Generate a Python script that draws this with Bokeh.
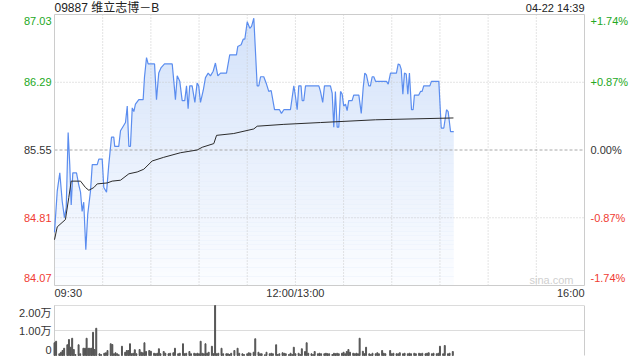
import numpy as np
from bokeh.plotting import figure
from bokeh.models import Range1d, Label
from bokeh.layouts import column
from bokeh.embed import file_html
from bokeh.resources import INLINE

# ---------------- data (minute offsets from 09:30, lunch removed) ----------------
title_text = "09887 维立志博－B"
stamp_text = "04-22 14:39"
prev_close = 85.55
price_ticks = [87.03, 86.29, 85.55, 84.81, 84.07]
pct_labels = ["+1.74%", "+0.87%", "0.00%", "-0.87%", "-1.74%"]
x_tick_pos = [0, 150, 330]
x_tick_labels = ["09:30", "12:00/13:00", "16:00"]
grid_minutes = [30, 60, 90, 120, 150, 180, 210, 240, 270, 300]
vol_ticks = [20000, 10000, 0]
vol_labels = ["2.00万", "1.00万", "0"]

price_min = [0, 1.7, 3.3, 4.8, 6.2, 7.3, 8.5, 9.5, 10.4, 11.4, 13.7, 15.1, 16.2, 17.2, 18.2, 19.5,
             20.7, 22.4, 23.5, 26.6, 27.6, 29.7, 30.7, 32.4, 33.8, 35.5, 36.9, 37.5, 40.0, 41.1,
             42.8, 44.2, 45.3, 46.3, 47.3, 48.4, 49.4, 50.4, 52.5, 55.2, 56.0, 57.3, 58.3, 62.3,
             63.5, 64.9, 66.4, 68.5, 73.3, 74.3, 75.3, 76.4, 78.0, 79.5, 81.1, 82.2, 83.2, 84.2,
             85.7, 87.4, 88.8, 89.8, 90.9, 92.6, 94.0, 95.7, 97.1, 98.8, 100.2, 101.7, 103.4,
             107.1, 109.1, 113.3, 114.1, 116.2, 117.5, 118.5, 120.0, 121.6, 122.7, 124.1, 126.2,
             127.2, 128.3, 130.3, 132.0, 133.4, 134.9, 137.0, 140.1, 141.3, 142.8, 146.9, 149.0,
             150.0, 151.1, 152.1, 153.5, 154.2, 155.2, 156.3, 164.6, 165.6, 167.0, 168.1, 171.8,
             172.9, 173.9, 174.9, 176.0, 177.0, 178.1, 179.1, 180.1, 181.2, 182.2, 183.2, 185.3,
             186.3, 189.5, 191.0, 192.2, 193.2, 194.2, 195.7, 196.7, 197.8, 198.8, 199.9, 206.7,
             207.8, 209.2, 212.9, 214.0, 215.0, 215.9, 216.9, 217.9, 219.0, 220.0, 221.0, 222.3,
             223.3, 224.1, 226.8, 227.9, 228.9, 229.9, 233.7, 234.7, 239.3, 240.8, 242.4, 244.1,
             245.1, 246.6, 248.6]
price_val = [84.65, 85.10, 85.30, 84.99, 84.81, 84.92, 85.74, 85.39, 84.95, 85.30, 85.30, 85.17,
             85.09, 84.88, 84.98, 84.46, 84.85, 85.10, 85.39, 85.39, 85.45, 85.45, 85.14, 85.09,
             85.39, 85.69, 85.69, 85.59, 85.59, 85.76, 85.81, 85.85, 86.03, 85.59, 85.59, 86.01,
             85.97, 86.05, 86.10, 86.10, 86.34, 86.56, 86.49, 86.49, 86.10, 86.39, 86.45, 86.49,
             86.49, 86.30, 86.10, 86.36, 86.30, 86.09, 86.09, 86.25, 86.00, 86.25, 86.25, 86.07,
             86.28, 86.25, 86.07, 86.20, 86.34, 86.39, 86.36, 86.41, 86.50, 86.36, 86.39, 86.39,
             86.59, 86.59, 86.68, 86.70, 86.76, 86.76, 86.95, 86.88, 86.90, 86.99, 86.25, 86.25,
             86.35, 86.35, 86.27, 86.19, 86.20, 85.99, 85.99, 85.95, 85.99, 85.99, 86.25, 86.14,
             85.99, 86.25, 86.25, 86.09, 86.09, 86.25, 86.25, 86.19, 86.07, 86.25, 86.25, 86.17,
             85.80, 86.19, 85.80, 85.80, 86.19, 86.16, 86.03, 86.05, 85.98, 86.09, 86.09, 86.15,
             86.15, 85.95, 86.23, 86.39, 86.37, 86.25, 86.25, 86.35, 86.35, 86.30, 86.30, 86.27,
             86.39, 86.39, 86.49, 86.48, 86.43, 86.16, 86.39, 86.38, 86.16, 86.39, 85.99, 85.99,
             86.15, 86.15, 86.19, 86.19, 86.25, 86.25, 86.30, 86.30, 85.79, 85.79, 85.99, 85.97,
             85.75, 85.75]

avg_min = [0, 1.7, 6.8, 8.9, 10.4, 16.2, 19.3, 21.4, 24.5, 26.6, 32.8, 35.9, 41.1, 46.3, 51.5,
           55.6, 60.8, 68.0, 78.4, 88.8, 92.0, 99.2, 100.9, 111.6, 124.1, 126.2, 142.8, 165.6,
           199.9, 248.4]
avg_val = [84.57, 84.71, 84.79, 85.03, 85.21, 85.21, 85.14, 85.11, 85.14, 85.18, 85.19, 85.21,
           85.22, 85.29, 85.31, 85.34, 85.43, 85.47, 85.52, 85.55, 85.58, 85.62, 85.71, 85.73,
           85.78, 85.81, 85.83, 85.85, 85.88, 85.90]

vol_min = [0, 1, 3, 4, 5, 6, 8, 9, 10, 11, 12, 13, 15, 16, 18, 19, 20, 21, 22, 23, 24, 25, 26, 28,
           29, 31, 32, 33, 35, 36, 37, 38, 39, 40, 42, 44, 45, 46, 47, 48, 49, 50, 51, 53, 54, 55,
           56, 57, 59, 60, 62, 63, 64, 65, 66, 68, 69, 71, 72, 74, 75, 77, 78, 80, 81, 82, 84, 85,
           87, 88, 89, 90, 91, 92, 93, 94, 95, 96, 98, 99, 100, 101, 102, 104, 105, 107, 108, 109,
           110, 112, 114, 115, 117, 118, 120, 121, 122, 124, 125, 127, 128, 129, 131, 132, 134,
           135, 136, 138, 139, 140, 142, 143, 144, 146, 147, 148, 149, 150, 152, 153, 154, 156,
           157, 158, 160, 161, 162, 164, 165, 166, 168, 169, 170, 171, 173, 174, 175, 176, 177,
           179, 180, 181, 182, 183, 184, 186, 187, 188, 189, 190, 192, 193, 194, 196, 197, 198,
           200, 201, 202, 204, 205, 206, 209, 210, 211, 213, 214, 215, 217, 218, 220, 221, 222,
           224, 225, 227, 228, 229, 231, 232, 233, 235, 236, 238, 239, 240, 242, 243, 245, 246, 248]
vol_val = [5100, 5700, 700, 1300, 2000, 2900, 4300, 6400, 3300, 6900, 2400, 400, 4300, 700, 2900,
           2900, 6900, 2900, 2900, 2900, 9300, 2400, 10900, 700, 400, 900, 1100, 2000, 4700, 4400,
           700, 1100, 700, 300, 3700, 1300, 2000, 2000, 4700, 700, 900, 2300, 700, 2400, 1300,
           1100, 5100, 1600, 2000, 1700, 900, 700, 900, 2700, 700, 1600, 900, 700, 900, 1100, 2900,
           700, 900, 4700, 700, 900, 1600, 700, 900, 700, 900, 700, 5700, 900, 700, 4700, 900,
           1300, 3700, 700, 20000, 700, 900, 2900, 700, 700, 700, 400, 900, 2000, 2900, 900, 700,
           400, 700, 1100, 900, 1300, 6700, 1300, 700, 700, 300, 1300, 700, 900, 700, 4300, 400,
           700, 1100, 900, 700, 400, 900, 400, 3300, 700, 900, 400, 2700, 1600, 5100, 900, 700,
           400, 1600, 700, 900, 700, 700, 900, 700, 700, 400, 900, 700, 900, 700, 900, 1300, 700,
           1600, 2400, 1300, 900, 700, 900, 700, 6900, 1700, 700, 3300, 700, 400, 900, 700, 1100,
           700, 2000, 900, 700, 2000, 700, 900, 700, 700, 1100, 700, 900, 700, 900, 700, 900, 700,
           900, 700, 900, 700, 900, 1100, 700, 900, 700, 900, 3700, 700, 4000, 700, 900, 1600]

# ---------------- layout / styling ----------------
FONT = "Liberation Sans, Noto Sans CJK SC"
GREEN = "#23a823"
RED = "#f03c32"
DARK = "#333333"
LINE_BLUE = "#5b8def"
GRID = "#c8c8c8"
BORDER = "#cccccc"

XMAX = x_tick_pos[-1]
L_PAD, R_PAD = 54, 56                 # pixel margins around the plotting box
K = XMAX / (640 - L_PAD - R_PAD)      # minutes per pixel
x_range = Range1d(-L_PAD * K, XMAX + R_PAD * K)

ymin, ymax = price_ticks[-1], price_ticks[0]
T_PAD, B_PAD = 14, 15
H1 = 300
PY = (ymax - ymin) / (H1 - T_PAD - B_PAD)   # price per pixel

p = figure(width=640, height=H1, x_range=x_range,
           y_range=Range1d(ymin - B_PAD * PY, ymax + T_PAD * PY),
           output_backend="svg", toolbar_location=None, title=None,
           x_axis_location=None, y_axis_location=None, min_border=0)
p.outline_line_color = None
p.grid.visible = False
p.background_fill_color = "white"
p.border_fill_color = "white"

# area fill with vertical gradient (white veil bands over a blue fill)
p.varea(x=price_min, y1=ymin, y2=price_val, fill_color="#d3e2fa", level="image")
nb = 60
edges = np.linspace(ymin, ymax, nb + 1)
alphas = [0.92 * (1 - (k + 0.5) / nb) for k in range(nb)]
p.quad(left=0, right=XMAX, bottom=edges[:-1], top=edges[1:], fill_color="white",
       fill_alpha=alphas, line_color=None, level="image")

# grid lines limited to the plotting box
p.segment(x0=grid_minutes, y0=ymin, x1=grid_minutes, y1=ymax, line_color=GRID,
          line_dash="1 2", line_width=1, level="underlay")
hg = [price_ticks[1], price_ticks[3]]
p.segment(x0=0, y0=hg, x1=XMAX, y1=hg, line_color=GRID, line_dash="1 2", line_width=1,
          level="underlay")
p.segment(x0=0, y0=prev_close, x1=XMAX, y1=prev_close, line_color="#a8a8a8",
          line_dash="3 2", line_width=1, level="underlay")
p.quad(left=0, right=XMAX, bottom=ymin, top=ymax, fill_color=None, line_color=BORDER,
       line_width=1)

p.line(price_min, price_val, line_color=LINE_BLUE, line_width=1.2)
p.line(avg_min, avg_val, line_color="#2b2b2b", line_width=1)


def lab(fig, x, y, text, color, align, xo=0, yo=0, size="11px"):
    fig.add_layout(Label(x=x, y=y, text=text, text_color=color, text_align=align,
                         text_baseline="middle", x_offset=xo, y_offset=yo,
                         text_font=FONT, text_font_size=size))


lcolors = [GREEN, GREEN, DARK, RED, RED]
yoffs = [-6, 0, 0, 0, 7.5]
for val, pc, c, yo in zip(price_ticks, pct_labels, lcolors, yoffs):
    lab(p, 0, val, f"{val:.2f}", c, "right", xo=-3, yo=yo)
    lab(p, XMAX, val, pc, c, "left", xo=6, yo=yo)

aligns = ["left", "center", "right"]
for xp, t, a in zip(x_tick_pos, x_tick_labels, aligns):
    lab(p, xp, ymin, t, DARK, a, yo=-7.5)

lab(p, 0, ymax, title_text, "#222222", "left", yo=7, size="12px")
lab(p, XMAX, ymax, stamp_text, "#222222", "right", yo=7, size="11px")
lab(p, XMAX, ymin, "sina.com", "#cfcfcf", "right", xo=-11, yo=6, size="11px")

# ---------------- volume panel ----------------
H2 = 60
VT, VB = 5, 5
vmax = vol_ticks[0]
PV = vmax / (H2 - VT - VB)
v = figure(width=640, height=H2, x_range=x_range,
           y_range=Range1d(-VB * PV, vmax + VT * PV),
           output_backend="svg", toolbar_location=None, title=None,
           x_axis_location=None, y_axis_location=None, min_border=0)
v.outline_line_color = None
v.grid.visible = False
v.background_fill_color = "white"
v.border_fill_color = "white"
vg = [vol_ticks[0], vol_ticks[1]]
v.segment(x0=0, y0=vg, x1=XMAX, y1=vg, line_color="#b8b8b8", line_dash="1 1", line_width=1)
v.segment(x0=[0, XMAX], y0=0, x1=[0, XMAX], y1=vmax, line_color=BORDER, line_width=1)
v.vbar(x=vol_min, top=vol_val, width=0.6, color="#555555")

voffs = [-7, 0, 6]
for t, s, yo in zip(vol_ticks, vol_labels, voffs):
    lab(v, 0, t, s, DARK, "right", xo=-3, yo=yo)

layout = column(p, v, spacing=0)
open("out.html", "w").write(file_html(layout, INLINE))
